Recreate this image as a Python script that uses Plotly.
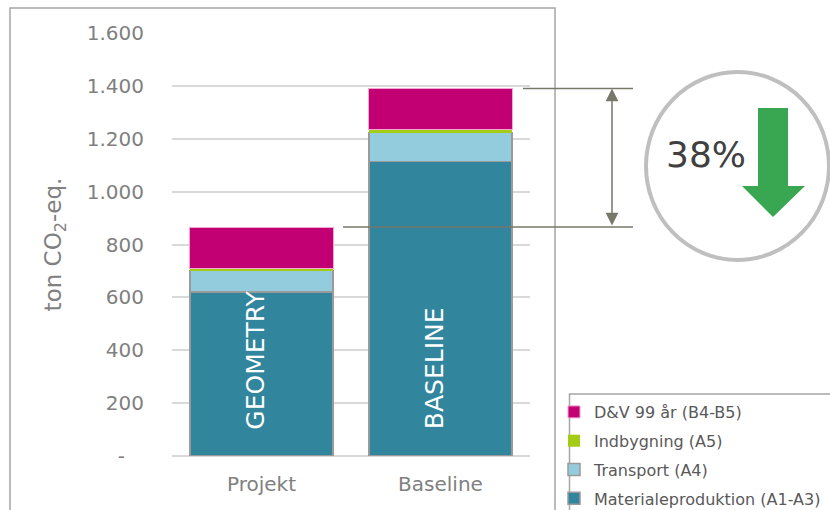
import plotly.graph_objects as go

# ---------------- data ----------------
categories = ["Projekt", "Baseline"]
bar_labels = ["GEOMETRY", "BASELINE"]
series_names = ["Materialeproduktion (A1-A3)", "Transport (A4)", "Indbygning (A5)", "D&V 99 år (B4-B5)"]
materialeproduktion = [620, 1114]
transport = [82, 109]
indbygning = [7, 11]
dv_99_aar = [157, 156]
y_tickvals = [0, 200, 400, 600, 800, 1000, 1200, 1400, 1600]
y_ticktext = ["-\u00a0\u00a0\u00a0", "200", "400", "600", "800", "1.000", "1.200", "1.400", "1.600"]
y_title = "ton CO<sub>2</sub>-eq."

# ---------------- styling ----------------
colors = ["#31859C", "#93CDDD", "#A4CC14", "#C20074"]
line_colors = ["#9a9a9a", "#9a9a9a", "#A4CC14", "#F2A7D2"]
line_widths = [1.5, 1.5, 0, 1]
W, H = 830, 510
L, R, T, B = 172, 530, 33, 456
FONT = "DejaVu Sans"
GREY = "#808080"


def px(x):
    return (x - L) / (R - L)


def py(y):
    return (B - y) / (B - T)


series_values = [materialeproduktion, transport, indbygning, dv_99_aar]
totals = [sum(v[i] for v in series_values) for i in range(len(categories))]
proj_total, base_total = totals[0], totals[1]
reduction = round((base_total - proj_total) / base_total * 100)

fig = go.Figure()
n = len(series_names)
for i, (name, vals) in enumerate(zip(series_names, series_values)):
    fig.add_trace(go.Bar(
        x=categories, y=vals, name=name, legendgroup=name, legendrank=n - i,
        marker=dict(color=colors[i], line=dict(color=line_colors[i], width=line_widths[i])),
    ))

shapes = [
    # outer chart frame
    dict(type="rect", xref="paper", yref="paper", x0=px(10), x1=px(555), y0=py(530), y1=py(8),
         line=dict(color="#a6a6a6", width=1.5), layer="below"),
    # legend box
    dict(type="rect", xref="paper", yref="paper", x0=px(569.5), x1=px(850), y0=py(530), y1=py(394),
         line=dict(color="#a6a6a6", width=1.5)),
    # measurement lines
    dict(type="line", xref="paper", yref="y", x0=px(523), x1=px(633), y0=base_total, y1=base_total,
         line=dict(color="#77776a", width=1.5)),
    dict(type="line", xref="paper", yref="y", x0=px(343), x1=px(633), y0=proj_total, y1=proj_total,
         line=dict(color="#77776a", width=1.5)),
    # circle
    dict(type="circle", xref="paper", yref="paper", x0=px(646), x1=px(829), y0=py(260), y1=py(72),
         line=dict(color="#bfbfbf", width=4)),
]
arrow_pts = [(758, 108), (788, 108), (788, 186), (805, 186), (773, 217), (742, 186), (758, 186)]
path = "M " + " L ".join(f"{px(x):.5f},{py(y):.5f}" for x, y in arrow_pts) + " Z"
shapes.append(dict(type="path", xref="paper", yref="paper", path=path,
                   fillcolor="#39A652", line=dict(width=0)))

annotations = [
    dict(xref="paper", yref="y", x=px(612), y=base_total, axref="pixel", ax=0, ayref="y", ay=proj_total,
         text="", showarrow=True, arrowhead=2, startarrowhead=2, arrowside="end+start",
         arrowwidth=1.5, arrowsize=1.7, startarrowsize=1.7, arrowcolor="#77776a"),
    dict(xref="paper", yref="paper", x=px(706), y=py(154), xanchor="center", yanchor="middle",
         text=f"{reduction}%", showarrow=False,
         font=dict(family=FONT, size=36, color="#404040")),
]
for cat, lab in zip(categories, bar_labels):
    annotations.append(dict(xref="x", yref="y", x=cat, y=92, text=lab, showarrow=False,
                            textangle=-90, yanchor="bottom", xanchor="center", xshift=-6,
                            font=dict(family=FONT, size=25, color="white")))

fig.update_layout(
    width=W, height=H,
    margin=dict(l=L, r=W - R, t=T, b=H - B, autoexpand=False),
    paper_bgcolor="white", plot_bgcolor="white",
    barmode="stack", bargap=0.2,
    font=dict(family=FONT, color=GREY),
    showlegend=True,
    legend=dict(x=px(554), y=py(395), xanchor="left", yanchor="top",
                traceorder="grouped", tracegroupgap=5,
                font=dict(family=FONT, size=16, color="#595959"),
                bgcolor="rgba(0,0,0,0)", borderwidth=0),
    shapes=shapes, annotations=annotations,
)
fig.update_yaxes(range=[0, 1600], tickvals=y_tickvals, ticktext=y_ticktext,
                 showgrid=True, gridcolor="#d9d9d9", gridwidth=1.5,
                 zeroline=True, zerolinecolor="#d9d9d9", zerolinewidth=1.5,
                 showline=False, ticks="", ticklabelstandoff=27,
                 tickfont=dict(family=FONT, size=20, color=GREY),
                 title=dict(text=y_title, font=dict(family=FONT, size=23, color=GREY), standoff=18))
fig.update_xaxes(showgrid=False, showline=False, ticks="", ticklabelstandoff=14,
                 tickfont=dict(family=FONT, size=20, color=GREY))

fig.write_html("out.html")
